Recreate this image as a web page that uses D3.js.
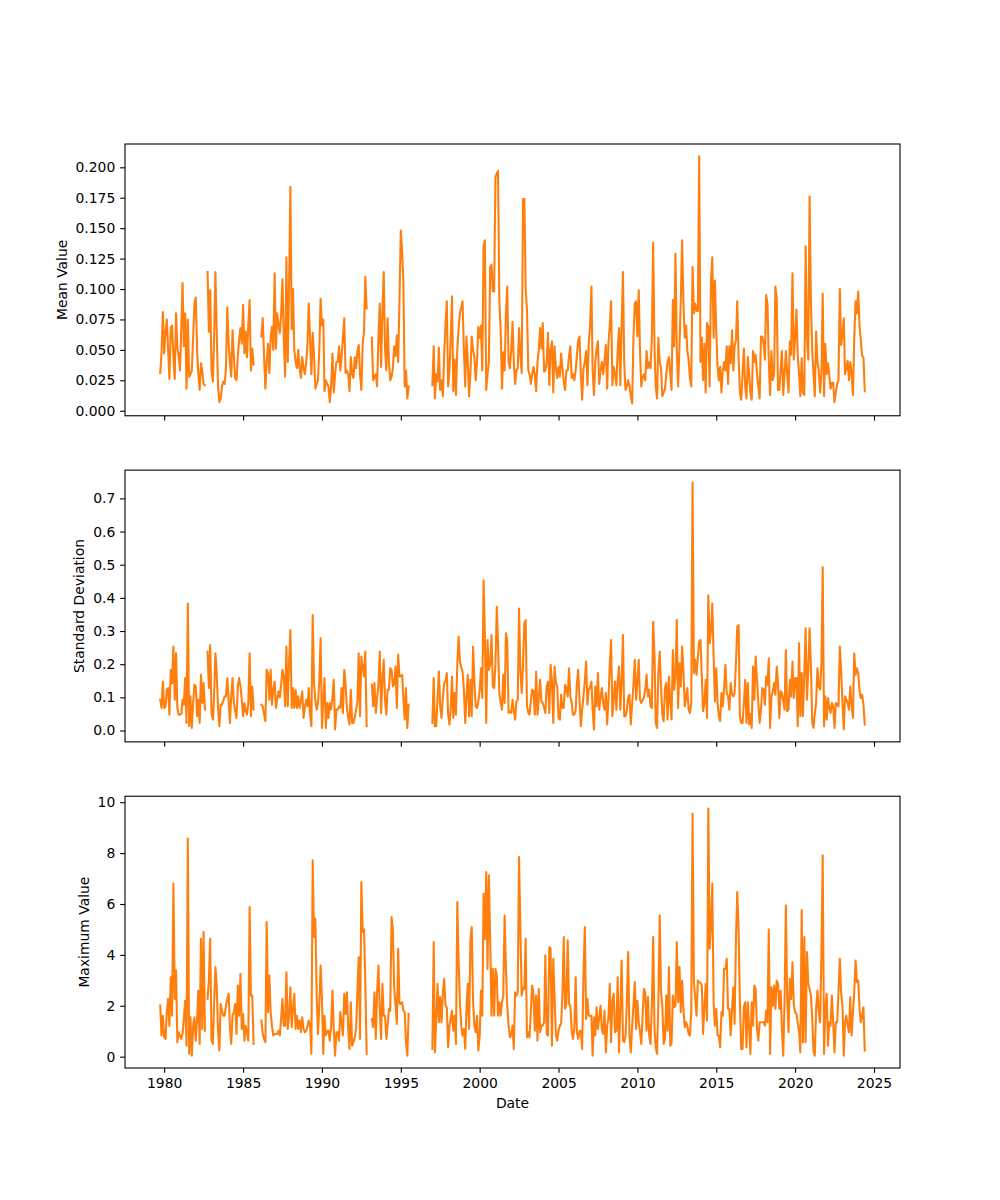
<!DOCTYPE html>
<html>
<head>
<meta charset="utf-8">
<script src="https://cdn.jsdelivr.net/npm/d3@7"></script>
<style>
  body { margin: 0; background: #ffffff; }
  text { font-family: "DejaVu Sans", sans-serif; }
</style>
</head>
<body>
<svg id="chart" width="1000" height="1200"></svg>
<script>
// ---------------- DATA (monthly, first row starts Oct 1979) ----------------
const firstYear = 1979;
const firstMonth = 9; // October (0-based)

const meanRows = [
  [0.031,0.048,0.081],
  [0.047,0.065,0.075,0.050,0.026,0.068,0.070,0.045,0.026,0.080,0.052,0.045],
  [0.033,0.070,0.105,0.053,0.080,0.018,0.075,0.028,0.030,0.033,0.060,0.088],
  [0.093,0.050,0.030,0.017,0.039,0.032,0.022,0.021,null,0.114,0.065,0.099],
  [0.033,0.024,0.060,0.114,0.064,0.020,0.007,0.010,0.020,0.024,0.022,0.035],
  [0.085,0.055,0.040,0.028,0.066,0.045,0.027,0.025,0.045,0.058,0.068,0.055],
  [0.087,0.047,0.065,0.044,0.070,0.091,0.033,0.051,0.038,null,null,null],
  [null,null,0.061,0.076,0.045,0.018,0.040,0.055,0.031,0.060,0.069,0.050],
  [0.113,0.051,0.080,0.070,0.064,0.080,0.108,0.060,0.028,0.126,0.040,0.100],
  [0.184,0.067,0.100,0.050,0.040,0.035,0.050,0.035,0.027,0.044,0.035,0.030],
  [0.040,0.055,0.088,0.060,0.030,0.064,0.045,0.018,0.022,0.025,0.050,0.092],
  [0.070,0.075,0.016,0.025,0.022,0.020,0.007,0.020,0.047,0.015,0.030,0.040],
  [0.040,0.053,0.033,0.044,0.060,0.076,0.031,0.033,0.030,0.016,0.044,0.030],
  [0.027,0.044,0.035,0.049,0.054,0.030,0.017,0.055,0.065,0.110,0.084,null],
  [null,null,0.060,0.025,0.028,0.030,0.020,0.060,0.088,0.036,0.080,0.114],
  [0.050,0.033,0.076,0.040,0.025,0.028,0.035,0.053,0.045,0.062,0.040,0.090],
  [0.148,0.130,0.107,0.020,0.033,0.010,0.020,null,null,null,null,null],
  [null,null,null,null,null,null,null,null,null,null,null,null],
  [0.021,0.053,0.010,0.030,0.024,0.052,0.017,0.025,0.012,0.046,0.070,0.090],
  [0.020,0.033,0.060,0.094,0.016,0.042,0.013,0.050,0.068,0.080,0.085,0.090],
  [0.050,0.020,0.061,0.042,0.012,0.030,0.061,0.050,0.044,0.025,0.040,0.069],
  [0.060,0.070,0.033,0.135,0.140,0.017,0.030,0.040,0.118,0.120,0.098,0.098],
  [0.192,0.195,0.197,0.090,0.067,0.018,0.048,0.033,0.080,0.102,0.040,0.035],
  [0.050,0.073,0.040,0.022,0.033,0.035,0.068,0.045,0.031,0.174,0.174,0.100],
  [0.083,0.033,0.030,0.022,0.030,0.036,0.030,0.016,0.040,0.050,0.068,0.051],
  [0.072,0.032,0.033,0.040,0.064,0.021,0.050,0.057,0.015,0.053,0.035,0.027],
  [0.036,0.028,0.047,0.035,0.024,0.017,0.033,0.033,0.045,0.053,0.027,0.030],
  [0.025,0.033,0.045,0.058,0.061,0.030,0.009,0.035,0.040,0.049,0.021,0.055],
  [0.070,0.102,0.033,0.013,0.040,0.051,0.057,0.022,0.033,0.040,0.030,0.040],
  [0.054,0.018,0.055,0.070,0.090,0.021,0.036,0.030,0.021,0.050,0.068,0.021],
  [0.070,0.114,0.040,0.017,0.020,0.025,0.020,0.012,0.006,0.060,0.088,0.090],
  [0.061,0.099,0.050,0.020,0.027,0.030,0.025,0.049,0.035,0.040,0.035,0.060],
  [0.138,0.051,0.020,0.010,0.060,0.040,0.035,0.012,0.015,0.018,0.030,0.040],
  [0.044,0.030,0.017,0.091,0.053,0.129,0.050,0.020,0.053,0.090,0.140,0.090],
  [0.060,0.070,0.050,0.042,0.027,0.020,0.118,0.080,0.088,0.082,0.082,0.209],
  [0.040,0.060,0.025,0.055,0.015,0.072,0.069,0.020,0.107,0.126,0.060,0.107],
  [0.064,0.036,0.025,0.036,0.015,0.033,0.040,0.033,0.053,0.022,0.053,0.039],
  [0.066,0.033,0.053,0.058,0.090,0.044,0.015,0.009,0.030,0.051,0.020,0.010],
  [0.044,0.030,0.015,0.009,0.049,0.040,0.046,0.030,0.020,0.010,0.061,0.061],
  [0.055,0.042,0.095,0.088,0.040,0.013,0.049,0.025,0.030,0.102,0.092,0.017],
  [0.017,0.035,0.049,0.013,0.030,0.049,0.030,0.015,0.057,0.046,0.113,0.042],
  [0.060,0.083,0.046,0.030,0.012,0.043,0.015,0.013,0.135,0.060,0.042,0.176],
  [0.090,0.049,0.030,0.012,0.065,0.040,0.033,0.015,0.030,0.096,0.012,0.055],
  [0.030,0.039,0.030,0.018,0.023,0.023,0.007,0.015,0.022,0.025,0.100,0.054],
  [0.062,0.076,0.030,0.035,0.041,0.025,0.040,0.030,0.013,0.060,0.090,0.080],
  [0.098,0.070,0.058,0.045,0.044,0.016]
];

const stdRows = [
  [0.093,0.068,0.148],
  [0.068,0.073,0.123,0.128,0.048,0.183,0.143,0.253,0.093,0.233,0.068,0.048],
  [0.048,0.050,0.093,0.078,0.158,0.023,0.383,0.013,0.103,0.008,0.083,0.138],
  [0.133,0.043,0.093,0.023,0.168,0.083,0.143,0.063,null,0.238,0.128,0.258],
  [0.053,0.033,0.100,0.233,0.173,0.068,0.013,0.078,0.078,0.090,0.103,0.103],
  [0.158,0.093,0.023,0.103,0.158,0.083,0.060,0.038,0.133,0.158,0.133,0.093],
  [0.043,0.083,0.060,0.048,0.083,0.233,0.043,0.133,0.063,null,null,null],
  [null,null,0.078,0.073,0.050,0.028,0.183,0.173,0.093,0.183,0.078,0.123],
  [0.148,0.068,0.093,0.118,0.100,0.140,0.183,0.163,0.073,0.253,0.073,0.200],
  [0.303,0.068,0.128,0.068,0.123,0.068,0.103,0.068,0.090,0.118,0.038,0.070],
  [0.093,0.073,0.128,0.050,0.013,0.348,0.143,0.090,0.063,0.083,0.150,0.278],
  [0.008,0.090,0.158,0.008,0.083,0.038,0.083,0.063,0.100,0.153,0.003,0.063],
  [0.063,0.073,0.068,0.128,0.053,0.183,0.143,0.068,0.040,0.018,0.123,0.023],
  [0.023,0.040,0.063,0.088,0.233,0.043,0.223,0.193,0.163,0.238,0.013,null],
  [null,null,0.138,0.073,0.143,0.053,0.100,0.138,0.238,0.053,0.150,0.213],
  [0.093,0.048,0.123,0.123,0.188,0.183,0.133,0.140,0.193,0.068,0.228,0.163],
  [0.163,0.168,0.100,0.033,0.128,0.008,0.078,null,null,null,null,null],
  [null,null,null,null,null,null,null,null,null,null,null,null],
  [0.023,0.158,0.013,0.013,0.100,0.178,0.073,0.038,0.100,0.143,0.148,0.173],
  [0.050,0.018,0.063,0.163,0.038,0.113,0.048,0.200,0.283,0.208,0.190,0.178],
  [0.123,0.023,0.100,0.168,0.043,0.153,0.043,0.253,0.148,0.073,0.068,0.088],
  [0.120,0.188,0.098,0.453,0.283,0.023,0.273,0.183,0.200,0.288,0.133,0.128],
  [0.200,0.373,0.263,0.113,0.083,0.063,0.168,0.083,0.293,0.268,0.053,0.058],
  [0.053,0.093,0.060,0.033,0.088,0.093,0.368,0.183,0.113,0.200,0.323,0.333],
  [0.073,0.053,0.048,0.090,0.123,0.118,0.048,0.178,0.048,0.100,0.153,0.088],
  [0.083,0.070,0.053,0.133,0.148,0.053,0.198,0.150,0.023,0.193,0.143,0.133],
  [0.038,0.033,0.108,0.068,0.068,0.138,0.128,0.103,0.188,0.103,0.083,0.048],
  [0.048,0.060,0.140,0.183,0.093,0.013,0.063,0.103,0.150,0.208,0.078,0.123],
  [0.130,0.148,0.063,0.003,0.133,0.073,0.173,0.063,0.100,0.128,0.083,0.063],
  [0.113,0.018,0.093,0.200,0.273,0.043,0.093,0.148,0.063,0.150,0.193,0.063],
  [0.150,0.288,0.043,0.043,0.063,0.100,0.108,0.018,0.080,0.138,0.213,0.093],
  [0.150,0.213,0.093,0.083,0.093,0.100,0.123,0.168,0.103,0.123,0.073,0.068],
  [0.328,0.223,0.023,0.008,0.173,0.238,0.133,0.050,0.028,0.128,0.143,0.033],
  [0.163,0.080,0.033,0.243,0.123,0.163,0.333,0.068,0.203,0.133,0.253,0.183],
  [0.073,0.100,0.128,0.063,0.053,0.083,0.748,0.173,0.213,0.168,0.220,0.268],
  [0.273,0.163,0.058,0.083,0.153,0.038,0.408,0.263,0.300,0.383,0.223,0.088],
  [0.188,0.083,0.043,0.028,0.113,0.073,0.128,0.198,0.113,0.103,0.063,0.143],
  [0.110,0.103,0.113,0.203,0.313,0.318,0.043,0.023,0.023,0.083,0.153,0.023],
  [0.143,0.018,0.050,0.008,0.193,0.093,0.223,0.153,0.083,0.023,0.063,0.128],
  [0.123,0.078,0.163,0.138,0.218,0.008,0.103,0.118,0.143,0.108,0.193,0.143],
  [0.038,0.118,0.113,0.090,0.063,0.243,0.058,0.063,0.153,0.103,0.208,0.098],
  [0.158,0.158,0.013,0.263,0.043,0.173,0.043,0.173,0.308,0.093,0.183,0.308],
  [0.193,0.023,0.008,0.050,0.083,0.188,0.133,0.123,0.200,0.493,0.013,0.103],
  [0.033,0.098,0.070,0.053,0.083,0.073,0.008,0.083,0.078,0.073,0.253,0.183],
  [0.083,0.003,0.103,0.093,0.083,0.063,0.133,0.078,0.038,0.233,0.168,0.188],
  [0.173,0.120,0.098,0.108,0.080,0.018]
];

const maxRows = [
  [2.01,0.83,1.61],
  [0.76,0.70,1.75,2.27,1.22,3.12,1.61,6.80,2.27,3.39,0.57,0.96],
  [0.83,0.70,0.89,1.50,2.20,0.43,8.57,0.11,1.55,0.04,1.22,1.55],
  [0.63,1.50,2.60,0.50,4.63,1.09,4.90,1.02,null,2.27,3.00,4.63],
  [0.63,0.50,2.00,3.52,2.80,1.00,0.24,2.07,1.80,1.61,1.61,2.00],
  [2.27,2.47,1.20,0.50,1.61,1.75,2.07,0.89,2.80,1.61,3.26,1.09],
  [1.68,0.63,1.20,0.96,0.63,5.88,2.40,2.40,0.50,null,null,null],
  [null,null,1.42,0.89,0.70,0.57,5.29,1.75,3.19,1.75,1.20,0.83],
  [0.89,0.89,0.89,1.02,0.83,1.50,2.27,1.22,1.22,3.32,1.09,1.61],
  [2.73,1.16,1.88,2.47,1.09,1.61,1.09,1.42,0.96,1.55,1.09,0.96],
  [1.02,1.20,1.42,1.22,0.11,7.72,4.70,5.42,2.40,0.89,2.00,3.58],
  [2.27,0.11,1.61,0.83,1.00,1.02,0.63,1.22,2.60,1.09,0.04,0.96],
  [0.96,0.63,1.75,1.35,0.83,2.47,1.68,2.53,1.09,0.30,2.14,0.43],
  [0.57,0.76,1.09,2.50,3.91,0.70,6.86,4.90,5.00,2.93,0.11,null],
  [null,null,1.48,1.16,2.53,0.70,2.50,3.58,1.88,0.70,2.86,1.61],
  [1.61,0.70,1.20,1.88,1.81,5.49,5.00,2.73,2.00,1.29,4.24,2.10],
  [2.07,2.14,1.81,1.75,0.57,0.04,1.68,null,null,null,null,null],
  [null,null,null,null,null,null,null,null,null,null,null,null],
  [0.30,4.50,0.17,1.50,2.86,1.35,2.34,1.35,2.50,3.06,2.00,1.94],
  [0.37,1.22,1.50,1.81,1.02,1.61,0.50,6.08,3.71,2.14,1.20,0.83],
  [1.09,0.30,1.88,2.86,1.09,4.57,5.09,2.20,1.22,0.96,1.61,0.24],
  [0.80,2.60,1.61,6.40,4.63,7.26,3.45,7.13,4.63,1.61,3.45,1.61],
  [3.45,3.19,1.61,2.14,1.61,2.14,2.40,5.55,3.45,2.00,1.22,0.76],
  [0.83,1.22,0.30,2.53,2.40,2.53,7.85,5.00,2.40,2.73,2.66,4.63],
  [0.76,0.96,0.76,1.80,2.80,2.40,1.02,2.40,0.63,2.66,0.96,1.22],
  [1.22,1.35,3.98,0.89,0.83,4.30,4.24,0.43,3.85,2.27,0.83,0.63],
  [1.02,1.22,1.29,2.47,4.70,1.88,2.07,4.57,2.07,2.00,1.02,0.70],
  [1.09,3.12,0.96,0.70,1.00,1.02,0.30,3.19,5.09,1.48,2.27,1.61],
  [1.61,1.61,0.04,1.55,0.83,1.94,1.09,1.55,2.00,1.09,0.89,1.81],
  [0.17,1.22,1.50,2.86,0.57,2.20,2.47,0.96,1.02,3.12,0.17,1.88],
  [3.78,0.63,0.57,0.83,2.14,4.11,0.83,0.17,1.20,2.00,2.93,1.09],
  [2.20,1.35,1.00,0.50,1.61,2.66,2.53,1.02,2.34,0.83,0.50,2.00],
  [4.70,1.09,0.37,0.11,2.14,5.55,2.53,2.00,0.50,0.70,2.40,1.02],
  [3.52,0.43,0.50,2.40,1.94,2.00,4.50,2.14,3.52,1.75,2.99,1.88],
  [1.16,1.35,1.22,0.89,0.83,1.75,9.55,2.93,2.34,1.61,2.99,2.93],
  [2.90,2.80,0.89,1.88,2.86,1.42,9.75,4.24,5.16,6.80,2.07,1.22],
  [1.88,0.83,0.83,0.37,1.75,1.61,3.45,3.45,3.85,1.88,1.88,0.83],
  [1.88,2.73,1.29,4.63,6.47,5.00,2.14,0.30,0.30,1.94,2.14,0.37],
  [2.14,1.09,0.11,2.14,1.22,2.80,2.66,1.09,0.63,1.35,1.35,1.35],
  [1.35,1.22,1.81,1.35,5.00,0.11,2.73,2.00,2.80,1.88,2.99,2.86],
  [1.88,2.60,1.09,0.04,2.14,5.94,2.40,0.96,3.06,2.27,3.71,2.07],
  [1.75,1.68,1.35,1.00,0.17,5.75,0.57,4.70,0.57,4.11,2.86,2.66],
  [2.40,1.48,0.24,0.04,1.88,2.60,1.75,1.35,3.98,7.91,0.11,1.88],
  [2.47,0.43,1.35,1.22,2.40,1.35,0.17,1.35,1.35,2.53,3.85,2.53],
  [2.00,0.04,1.35,1.61,1.22,0.96,2.34,0.83,1.75,2.53,3.78,2.93],
  [2.99,1.88,1.35,1.61,1.94,0.24]
];

const meanTicks = [0, 0.025, 0.05, 0.075, 0.1, 0.125, 0.15, 0.175, 0.2];
const stdTicks = [0, 0.1, 0.2, 0.3, 0.4, 0.5, 0.6, 0.7];
const maxTicks = [0, 2, 4, 6, 8, 10];
const xTickYears = [1980, 1985, 1990, 1995, 2000, 2005, 2010, 2015, 2020, 2025];
const yLabels = ["Mean Value", "Standard Deviation", "Maximum Value"];
const xLabel = "Date";

// ---------------- BUILD ----------------
function toSeries(rows) {
  const out = [];
  rows.forEach((row, k) => {
    const yr = firstYear + k;
    const off = k === 0 ? firstMonth : 0;
    row.forEach((v, j) => out.push({ date: new Date(yr, off + j, 1), v: v }));
  });
  return out;
}

const panels = [
  { data: toSeries(meanRows), ticks: meanTicks, fmt: d3.format(".3f"), label: yLabels[0] },
  { data: toSeries(stdRows),  ticks: stdTicks,  fmt: d3.format(".1f"), label: yLabels[1] },
  { data: toSeries(maxRows),  ticks: maxTicks,  fmt: d3.format("d"),   label: yLabels[2] }
];

const svg = d3.select("#chart");
svg.append("rect").attr("width", 1000).attr("height", 1200).attr("fill", "#ffffff");

const FS = 13.9;
const left = 125, right = 900;
const figTop = 144, figBottom = 1068;
const h = (figBottom - figTop) / 3.4;
const gap = 0.2 * h;
const tickLen = 4.86, tickPad = 4.86;

const allDates = panels[0].data.map(d => d.date);
const d0 = d3.min(allDates), d1 = d3.max(allDates);
const span = d1 - d0;
const x = d3.scaleTime()
  .domain([new Date(+d0 - 0.05 * span), new Date(+d1 + 0.05 * span)])
  .range([left, right]);
const xTicks = xTickYears.map(y => new Date(y, 0, 1));

panels.forEach((p, i) => {
  const top = figTop + i * (h + gap);
  const bottom = top + h;
  const vals = p.data.filter(d => d.v != null).map(d => d.v);
  const lo = d3.min(vals), hi = d3.max(vals);
  const pad = 0.05 * (hi - lo);
  const y = d3.scaleLinear().domain([lo - pad, hi + pad]).range([bottom, top]);

  const g = svg.append("g");

  const line = d3.line()
    .defined(d => d.v != null)
    .x(d => x(d.date))
    .y(d => y(d.v));
  g.append("path").datum(p.data)
    .attr("fill", "none").attr("stroke", "#ff7f0e").attr("stroke-width", 2.08)
    .attr("stroke-linejoin", "round").attr("stroke-linecap", "square")
    .attr("d", line);

  // y axis
  const ya = g.append("g").attr("transform", `translate(${left},0)`)
    .call(d3.axisLeft(y).tickValues(p.ticks).tickFormat(p.fmt)
      .tickSize(tickLen).tickPadding(tickPad).tickSizeOuter(0));
  ya.select(".domain").remove();
  ya.selectAll("line").attr("stroke", "#000").attr("stroke-width", 1.1);
  ya.selectAll("text").attr("font-size", FS).attr("fill", "#000")
    .attr("font-family", "DejaVu Sans, sans-serif");

  // x axis
  const xa = g.append("g").attr("transform", `translate(0,${bottom})`)
    .call(d3.axisBottom(x).tickValues(xTicks)
      .tickFormat(i === 2 ? d3.timeFormat("%Y") : () => "")
      .tickSize(tickLen).tickPadding(tickPad).tickSizeOuter(0));
  xa.select(".domain").remove();
  xa.selectAll("line").attr("stroke", "#000").attr("stroke-width", 1.1);
  xa.selectAll("text").attr("font-size", FS).attr("fill", "#000")
    .attr("font-family", "DejaVu Sans, sans-serif");

  // spines
  g.append("rect").attr("x", left).attr("y", top)
    .attr("width", right - left).attr("height", h)
    .attr("fill", "none").attr("stroke", "#000").attr("stroke-width", 1.1);

  // y label
  let minX = left;
  ya.selectAll("text").each(function () {
    const b = this.getBBox();
    const tx = left + b.x;
    if (tx < minX) minX = tx;
  });
  const lx = minX - 5.56 - 3.3;
  svg.append("text")
    .attr("transform", `translate(${lx},${top + h / 2}) rotate(-90)`)
    .attr("text-anchor", "middle")
    .attr("font-size", FS).attr("fill", "#000")
    .text(p.label);
});

svg.append("text")
  .attr("x", (left + right) / 2).attr("y", 1108)
  .attr("text-anchor", "middle")
  .attr("font-size", FS).attr("fill", "#000")
  .text(xLabel);
</script>
</body>
</html>
